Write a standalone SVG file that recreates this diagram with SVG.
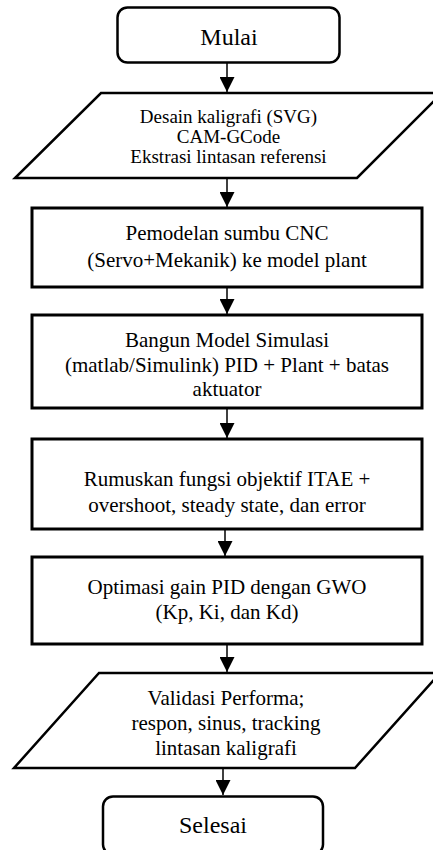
<svg xmlns="http://www.w3.org/2000/svg" width="433" height="850" viewBox="0 0 433 850">
<defs>
<style>
.shape{fill:#fff;stroke:#000;stroke-width:2.5}
.box{fill:#fff;stroke:#000;stroke-width:3}
.t{font-family:'Liberation Serif','Times New Roman',serif;fill:#000;text-anchor:middle}
.t21{font-size:21px}
.t19{font-size:19px}
.t24{font-size:24px}
.edge{stroke:#000;stroke-width:1.5;fill:none;marker-end:url(#ah)}
</style>
<marker id="ah" markerUnits="userSpaceOnUse" markerWidth="16" markerHeight="15" refX="15" refY="7.5" orient="auto">
<path d="M0,0 L15,7.5 L0,15 Z" fill="#000"/>
</marker>
</defs>
<rect width="433" height="850" fill="#fff"/>
<g id="connectors">
<line class="edge" x1="227" y1="63" x2="227" y2="92"/>
<line class="edge" x1="227" y1="178" x2="227" y2="207"/>
<line class="edge" x1="227" y1="287" x2="227" y2="314"/>
<line class="edge" x1="227" y1="408" x2="227" y2="438"/>
<line class="edge" x1="225" y1="529" x2="225" y2="556"/>
<line class="edge" x1="227" y1="644" x2="227" y2="672"/>
<line class="edge" x1="223" y1="768" x2="223" y2="795"/>
</g>
<g id="mulai">
<rect class="shape" x="117.5" y="7.5" width="222" height="55" rx="10"/>
<text class="t t24" x="229" y="45">Mulai</text>
</g>
<g id="input-desain">
<polygon class="shape" points="101,93 442,93 357,178 15,178"/>
<text class="t t19" x="228.5" y="123">Desain kaligrafi (SVG)</text>
<text class="t t19" x="228.5" y="143">CAM-GCode</text>
<text class="t t19" x="228.5" y="163">Ekstrasi lintasan referensi</text>
</g>
<g id="pemodelan">
<rect class="box" x="32" y="208" width="390" height="79"/>
<text class="t t21" x="227" y="240">Pemodelan sumbu CNC</text>
<text class="t t21" x="227" y="267">(Servo+Mekanik) ke model plant</text>
</g>
<g id="bangun-model">
<rect class="box" x="32" y="315" width="390" height="93"/>
<text class="t t21" x="227" y="347">Bangun Model Simulasi</text>
<text class="t t21" x="227" y="372">(matlab/Simulink) PID + Plant + batas</text>
<text class="t t21" x="227" y="396">aktuator</text>
</g>
<g id="rumuskan">
<rect class="box" x="32" y="439" width="390" height="90"/>
<text class="t t21" x="227" y="486">Rumuskan fungsi objektif ITAE +</text>
<text class="t t21" x="227" y="512">overshoot, steady state, dan error</text>
</g>
<g id="optimasi">
<rect class="box" x="32" y="557" width="390" height="87"/>
<text class="t t21" x="227" y="594">Optimasi gain PID dengan GWO</text>
<text class="t t21" x="227" y="619">(Kp, Ki, dan Kd)</text>
</g>
<g id="validasi">
<polygon class="shape" points="99,673 440,673 355,768 14,768"/>
<text class="t t21" x="226" y="705">Validasi Performa;</text>
<text class="t t21" x="226" y="730">respon, sinus, tracking</text>
<text class="t t21" x="226" y="755">lintasan kaligrafi</text>
</g>
<g id="selesai">
<rect class="shape" x="103" y="796.5" width="220" height="58" rx="10"/>
<text class="t t24" x="213" y="833">Selesai</text>
</g>
</svg>
